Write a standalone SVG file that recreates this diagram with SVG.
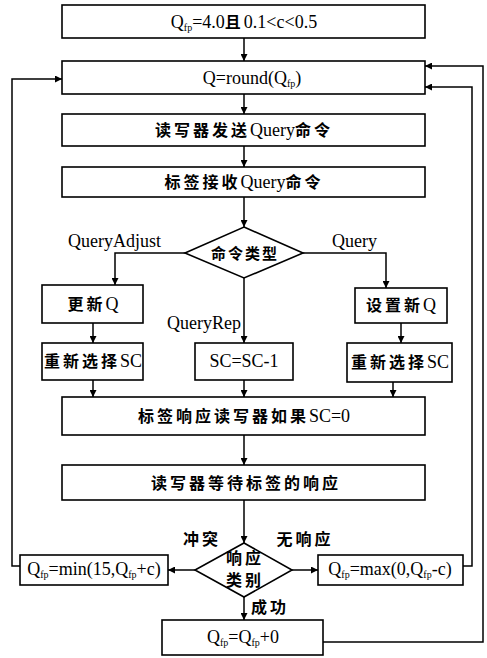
<svg xmlns="http://www.w3.org/2000/svg" width="487" height="658" viewBox="0 0 487 658">
<defs>
<marker id="ah" viewBox="0 0 10 10" refX="10" refY="5" markerWidth="7" markerHeight="7" markerUnits="userSpaceOnUse" orient="auto">
<path d="M0,0 L10,5 L0,10 Z" fill="#000"/>
</marker>
<style>
rect, polygon { fill: #fff; stroke: #000; stroke-width: 1.6; }
rect.bg { stroke: none; }
.c path { fill: none; stroke: #000; stroke-width: 1.5; marker-end: url(#ah); }
text { font-family: "Liberation Serif", "Noto Sans CJK SC", serif; font-size: 18px; fill: #000; }
.m { text-anchor: middle; }
.cj { font-family: "Noto Sans CJK SC", sans-serif; font-weight: bold; font-size: 16px; letter-spacing: 3px; }
.sub { font-size: 10px; }
</style>
</defs>
<rect class="bg" width="487" height="658"/>

<g class="c" id="connectors">
<path d="M244,38 V61"/>
<path d="M244,94 V114"/>
<path d="M244,146 V167"/>
<path d="M244,197 V227"/>
<path d="M185,253 H115 V285"/>
<path d="M303,253 H386 V288"/>
<path d="M244,278 V343"/>
<path d="M93,323 V343"/>
<path d="M401,323 V343"/>
<path d="M93,380 V397"/>
<path d="M244,380 V397"/>
<path d="M393,382 V397"/>
<path d="M244,435 V465"/>
<path d="M244,500 V543"/>
<path d="M195,570 H168"/>
<path d="M292,570 H318"/>
<path d="M244,597 V620"/>
<path d="M20,566 H12 V79 H62"/>
<path d="M463,566 H472 V87 H425"/>
<path d="M323,642 H483 V66 H425"/>
</g>

<g id="n1"><rect x="62" y="5" width="363" height="33"/>
<text class="m" x="244" y="28">Q<tspan class="sub" dy="3">fp</tspan><tspan dy="-3">=4.0</tspan><tspan class="cj" letter-spacing="0">且</tspan>0.1&lt;c&lt;0.5</text></g>

<g id="n2"><rect x="62" y="61" width="363" height="33"/>
<text class="m" x="252" y="84">Q=round(Q<tspan class="sub" dy="3">fp</tspan><tspan dy="-3">)</tspan></text></g>

<g id="n3"><rect x="62" y="114" width="363" height="32"/>
<text class="m" x="244" y="136"><tspan class="cj">读写器发送</tspan>Query<tspan class="cj">命令</tspan></text></g>

<g id="n4"><rect x="62" y="167" width="363" height="30"/>
<text class="m" x="244" y="188"><tspan class="cj">标签接收</tspan>Query<tspan class="cj">命令</tspan></text></g>

<g id="d1"><polygon points="244,227 303,253 244,278 185,253"/>
<text class="m cj" x="245" y="259" style="font-size:15px;letter-spacing:2px">命令类型</text></g>

<g id="l1"><text x="68" y="247">QueryAdjust</text></g>
<g id="l2"><text x="332" y="247">Query</text></g>
<g id="l3"><text x="167" y="329">QueryRep</text></g>

<g id="n5"><rect x="42" y="285" width="101" height="38"/>
<text class="m" x="93" y="310"><tspan class="cj">更新</tspan>Q</text></g>

<g id="n6"><rect x="42" y="343" width="101" height="37"/>
<text class="m" x="93" y="367"><tspan class="cj" letter-spacing="1">重新选择</tspan>SC</text></g>

<g id="n7"><rect x="195" y="343" width="98" height="37"/>
<text class="m" x="244" y="367">SC=SC-1</text></g>

<g id="n8"><rect x="355" y="288" width="92" height="35"/>
<text class="m" x="401" y="311"><tspan class="cj">设置新</tspan>Q</text></g>

<g id="n9"><rect x="347" y="343" width="105" height="39"/>
<text class="m" x="400" y="368"><tspan class="cj" letter-spacing="1">重新选择</tspan>SC</text></g>

<g id="n10"><rect x="62" y="397" width="363" height="38"/>
<text class="m" x="244" y="422"><tspan class="cj">标签响应读写器如果</tspan>SC=0</text></g>

<g id="n11"><rect x="62" y="465" width="363" height="35"/>
<text class="m cj" x="246" y="489">读写器等待标签的响应</text></g>

<g id="d2"><polygon points="244,543 292,570 244,597 195,570"/>
<text class="m cj" x="245" y="564" letter-spacing="1">响应</text>
<text class="m cj" x="245" y="586" letter-spacing="1">类别</text></g>

<g id="l4"><text class="m cj" x="202" y="545">冲突</text></g>
<g id="l5"><text class="m cj" x="305" y="545">无响应</text></g>
<g id="l6"><text class="m cj" x="270" y="613">成功</text></g>

<g id="n12"><rect x="20" y="555" width="148" height="30"/>
<text class="m" x="94" y="575">Q<tspan class="sub" dy="3">fp</tspan><tspan dy="-3">=min(15,Q</tspan><tspan class="sub" dy="3">fp</tspan><tspan dy="-3">+c)</tspan></text></g>

<g id="n13"><rect x="318" y="555" width="145" height="30"/>
<text class="m" x="390" y="575">Q<tspan class="sub" dy="3">fp</tspan><tspan dy="-3">=max(0,Q</tspan><tspan class="sub" dy="3">fp</tspan><tspan dy="-3">-c)</tspan></text></g>

<g id="n14"><rect x="162" y="620" width="161" height="35"/>
<text class="m" x="243" y="643">Q<tspan class="sub" dy="3">fp</tspan><tspan dy="-3">=Q</tspan><tspan class="sub" dy="3">fp</tspan><tspan dy="-3">+0</tspan></text></g>
</svg>
